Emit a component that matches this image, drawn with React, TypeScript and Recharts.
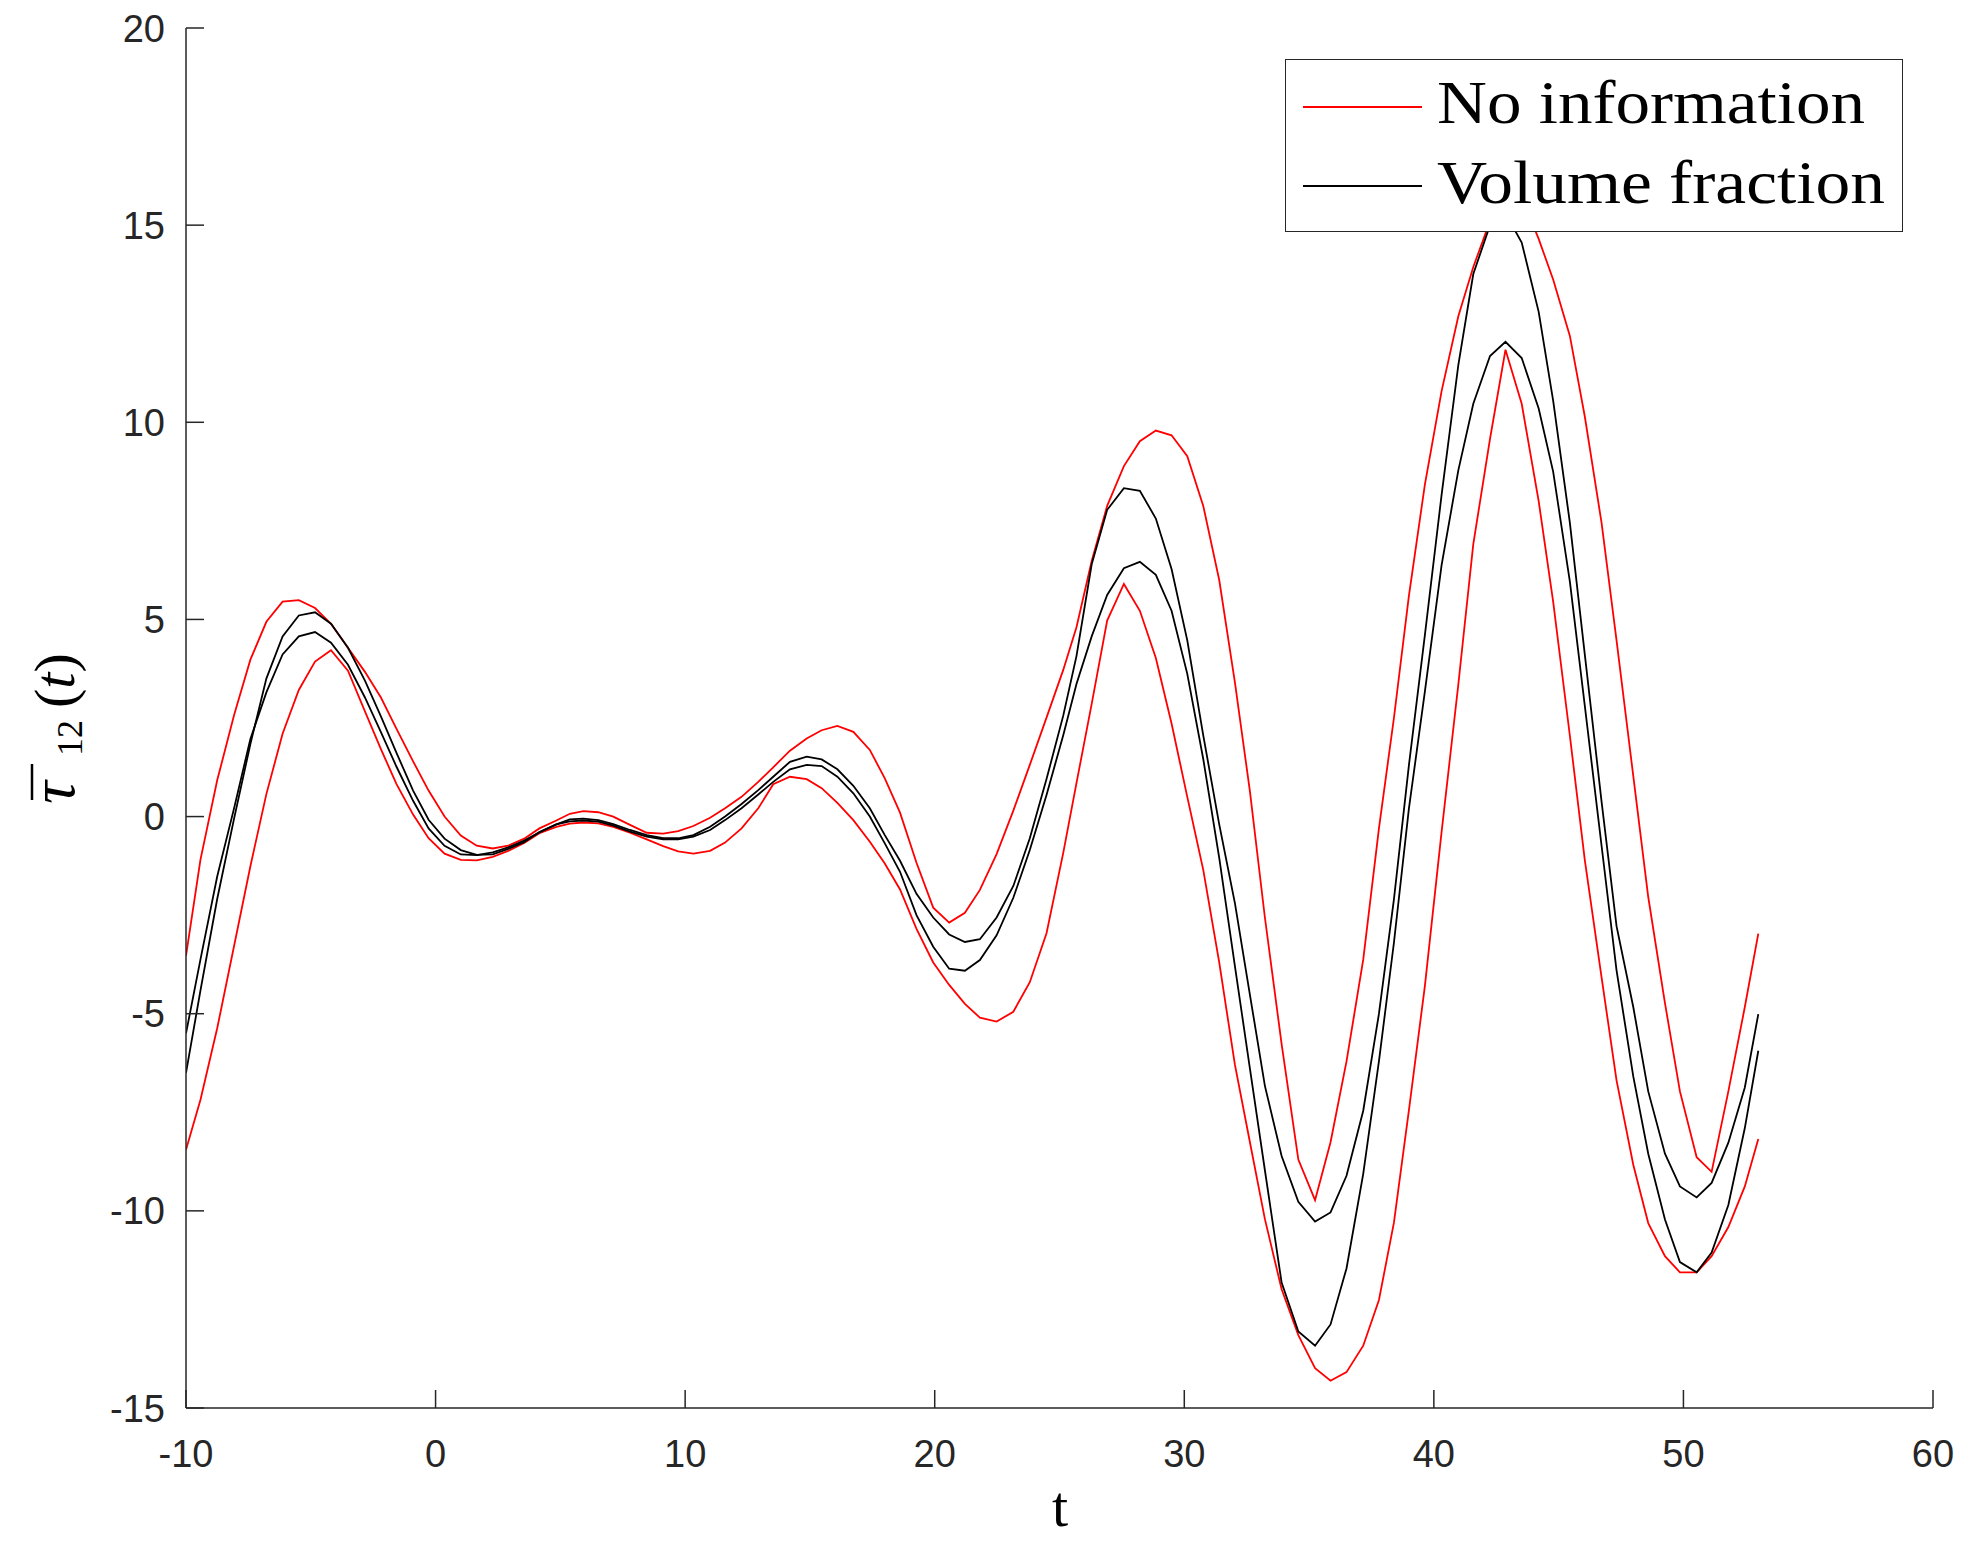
import React from 'react';
import { LineChart, Line, XAxis, YAxis } from 'recharts';

const tValues = [
  -10, -9.42, -8.75, -8.07, -7.42, -6.78, -6.13, -5.48, -4.83, -4.19,
  -3.51, -2.83, -2.19, -1.57, -0.9, -0.28, 0.36, 1.01, 1.65, 2.29,
  2.91, 3.55, 4.16, 4.84, 5.38, 5.92, 6.52, 7.12, 7.79, 8.46,
  9.12, 9.72, 10.33, 11.0, 11.6, 12.26, 12.93, 13.53, 14.2, 14.87,
  15.47, 16.1, 16.74, 17.4, 18.0, 18.61, 19.27, 19.94, 20.58, 21.21,
  21.81, 22.48, 23.15, 23.81, 24.48, 25.15, 25.68, 26.29, 26.91, 27.58,
  28.22, 28.86, 29.49, 30.12, 30.76, 31.4, 32.03, 32.63, 33.23, 33.9,
  34.57, 35.24, 35.86, 36.5, 37.17, 37.8, 38.4, 39.0, 39.64, 40.31,
  40.98, 41.58, 42.25, 42.87, 43.52, 44.2, 44.78, 45.45, 46.05, 46.72,
  47.32, 47.99, 48.59, 49.26, 49.86, 50.53, 51.13, 51.8, 52.46, 53,
];

// "No information" upper bound (red)
const noInfoUpper = [
  -3.53, -1.09, 0.92, 2.58, 3.98, 4.94, 5.45, 5.49, 5.29, 4.89,
  4.28, 3.67, 3.02, 2.23, 1.4, 0.66, 0.0, -0.48, -0.74, -0.81,
  -0.74, -0.56, -0.3, -0.1, 0.07, 0.14, 0.11, 0.0, -0.21, -0.41,
  -0.43, -0.37, -0.24, -0.03, 0.21, 0.5, 0.88, 1.25, 1.67, 1.98,
  2.19, 2.3, 2.15, 1.69, 0.97, 0.1, -1.17, -2.31, -2.69, -2.44,
  -1.86, -0.95, 0.15, 1.31, 2.51, 3.72, 4.8, 6.48, 7.88, 8.89,
  9.52, 9.79, 9.67, 9.14, 7.88, 6.0, 3.4, 0.64, -2.56, -5.77,
  -8.7, -9.73, -8.26, -6.21, -3.63, -0.3, 2.5, 5.6, 8.42, 10.79,
  12.69, 13.94, 15.1, 16.0, 15.7, 14.65, 13.62, 12.19, 10.14, 7.45,
  4.47, 1.03, -2.04, -4.73, -6.97, -8.64, -9.01, -6.97, -4.83, -2.97,
];

// "No information" lower bound (red)
const noInfoLower = [
  -8.45, -7.18, -5.37, -3.27, -1.26, 0.57, 2.1, 3.21, 3.93, 4.22,
  3.7, 2.67, 1.71, 0.83, 0.05, -0.55, -0.94, -1.1, -1.11, -1.02,
  -0.87, -0.67, -0.42, -0.26, -0.18, -0.15, -0.17, -0.26, -0.41, -0.58,
  -0.75, -0.88, -0.94, -0.87, -0.66, -0.3, 0.21, 0.82, 1.01, 0.95,
  0.72, 0.35, -0.09, -0.64, -1.19, -1.85, -2.85, -3.7, -4.27, -4.75,
  -5.1, -5.2, -4.95, -4.2, -2.96, -0.92, 0.85, 2.86, 4.97, 5.9,
  5.22, 4.02, 2.36, 0.5, -1.35, -3.7, -6.3, -8.26, -10.21, -11.99,
  -13.15, -13.99, -14.31, -14.09, -13.42, -12.26, -10.3, -7.45, -4.3, -0.39,
  3.35, 6.91, 9.58, 11.84, 10.47, 8.0, 5.45, 2.05, -1.11, -4.08,
  -6.69, -8.83, -10.31, -11.15, -11.56, -11.56, -11.15, -10.41, -9.38, -8.18,
];

// "Volume fraction" upper bound (black)
const volFracUpper = [
  -6.5, -4.41, -2.09, -0.04, 1.84, 3.5, 4.57, 5.1, 5.18, 4.89,
  4.28, 3.45, 2.54, 1.62, 0.66, -0.08, -0.56, -0.85, -0.97, -0.96,
  -0.82, -0.65, -0.39, -0.2, -0.07, -0.05, -0.09, -0.19, -0.34, -0.47,
  -0.55, -0.55, -0.47, -0.26, 0.0, 0.32, 0.67, 1.01, 1.39, 1.52,
  1.45, 1.2, 0.78, 0.21, -0.47, -1.12, -1.96, -2.56, -2.99, -3.18,
  -3.11, -2.56, -1.76, -0.55, 0.95, 2.56, 4.07, 6.4, 7.78, 8.33,
  8.26, 7.56, 6.28, 4.47, 2.06, -0.2, -2.2, -4.52, -6.83, -8.61,
  -9.77, -10.27, -10.04, -9.11, -7.46, -5.0, -2.1, 1.3, 4.6, 8.16,
  11.45, 13.76, 15.0, 15.3, 14.56, 12.8, 10.55, 7.45, 4.1, 0.38,
  -2.78, -4.83, -6.97, -8.55, -9.38, -9.66, -9.29, -8.27, -6.87, -5.01,
];

// "Volume fraction" lower bound (black)
const volFracLower = [
  -5.5, -3.62, -1.52, 0.22, 1.97, 3.15, 4.11, 4.57, 4.68, 4.41,
  3.85, 3.02, 2.14, 1.27, 0.4, -0.3, -0.74, -0.96, -0.98, -0.91,
  -0.78, -0.61, -0.4, -0.2, -0.12, -0.1, -0.13, -0.23, -0.38, -0.51,
  -0.58, -0.58, -0.51, -0.34, -0.09, 0.21, 0.56, 0.88, 1.2, 1.31,
  1.28, 1.01, 0.59, 0.0, -0.68, -1.4, -2.5, -3.3, -3.86, -3.91,
  -3.64, -3.01, -2.06, -0.85, 0.55, 2.06, 3.36, 4.57, 5.62, 6.3,
  6.46, 6.13, 5.22, 3.62, 1.46, -1.05, -3.8, -6.39, -8.97, -11.82,
  -13.06, -13.42, -12.88, -11.46, -9.06, -6.2, -3.2, 0.2, 3.17, 6.38,
  8.78, 10.47, 11.68, 12.04, 11.63, 10.35, 8.75, 5.96, 2.8, -0.74,
  -3.9, -6.59, -8.55, -10.22, -11.3, -11.56, -11.06, -9.85, -7.9, -5.94,
];

const xTicks = [-10, 0, 10, 20, 30, 40, 50, 60];
const yTicks = [-15, -10, -5, 0, 5, 10, 15, 20];

const legendItems = [
  { label: 'No information', color: '#ff0000' },
  { label: 'Volume fraction', color: '#000000' },
];

const data = tValues.map((t, i) => ({
  t,
  ru: noInfoUpper[i],
  rl: noInfoLower[i],
  bu: volFracUpper[i],
  bl: volFracLower[i],
}));

const AXIS = '#262626';
const TICK_FONT = '"Liberation Sans", Arial, Helvetica, sans-serif';
const SERIF = '"Liberation Serif", "Times New Roman", serif';

const XTick = (props: any) => {
  const { x, y, payload } = props;
  return (
    <g>
      <line x1={x} y1={y} x2={x} y2={y - 18} stroke={AXIS} strokeWidth={1.5} />
      <text x={x} y={y + 59} textAnchor="middle" fontFamily={TICK_FONT} fontSize={38} fill={AXIS}>
        {payload.value}
      </text>
    </g>
  );
};

const YTick = (props: any) => {
  const { x, y, payload } = props;
  return (
    <g>
      <line x1={x} y1={y} x2={x + 18} y2={y} stroke={AXIS} strokeWidth={1.5} />
      <text x={x - 21} y={y + 13.5} textAnchor="end" fontFamily={TICK_FONT} fontSize={38} fill={AXIS}>
        {payload.value}
      </text>
    </g>
  );
};

export default function App() {
  const legendWidths = [428, 448];
  return (
    <div style={{ position: 'absolute', left: 0, top: 0, width: 1968, height: 1541, background: '#ffffff' }}>
      <LineChart
        width={1968}
        height={1541}
        data={data}
        margin={{ top: 28, right: 35, bottom: 0, left: 0 }}
      >
        <XAxis
          dataKey="t"
          type="number"
          domain={[-10, 60]}
          ticks={xTicks}
          height={133}
          tickSize={0}
          tickMargin={0}
          tickLine={false}
          axisLine={{ stroke: AXIS, strokeWidth: 1.5 }}
          tick={<XTick />}
          interval={0}
          allowDataOverflow
        />
        <YAxis
          type="number"
          domain={[-15, 20]}
          ticks={yTicks}
          width={186}
          tickSize={0}
          tickMargin={0}
          tickLine={false}
          axisLine={{ stroke: AXIS, strokeWidth: 1.5 }}
          tick={<YTick />}
          interval={0}
          allowDataOverflow
        />
        <Line type="linear" dataKey="ru" stroke="#ff0000" strokeWidth={1.8} dot={false} isAnimationActive={false} />
        <Line type="linear" dataKey="rl" stroke="#ff0000" strokeWidth={1.8} dot={false} isAnimationActive={false} />
        <Line type="linear" dataKey="bu" stroke="#000000" strokeWidth={1.8} dot={false} isAnimationActive={false} />
        <Line type="linear" dataKey="bl" stroke="#000000" strokeWidth={1.8} dot={false} isAnimationActive={false} />
      </LineChart>

      {/* axis labels */}
      <svg
        width={1968}
        height={1541}
        style={{ position: 'absolute', left: 0, top: 0, pointerEvents: 'none' }}
      >
        <g transform="rotate(-90 74 720)">
          <text x={74 - 84} y={720} fontFamily={SERIF} fontSize={64} fontStyle="italic" fill="#000">
            τ
          </text>
          <line x1={74 - 80} y1={720 - 42} x2={74 - 44} y2={720 - 42} stroke="#000" strokeWidth={2.5} />
          <text x={74 - 36} y={728} fontFamily={SERIF} fontSize={36} fill="#000">
            12
          </text>
          <text x={74 + 12} y={720} fontFamily={SERIF} fontSize={58} fill="#000">
            (<tspan fontStyle="italic">t</tspan>)
          </text>
        </g>
        <text x={1060} y={1526} textAnchor="middle" fontFamily={SERIF} fontSize={58} fill="#000">
          t
        </text>
      </svg>

      {/* legend */}
      <div
        style={{
          position: 'absolute',
          left: 1285,
          top: 59,
          width: 618,
          height: 173,
          boxSizing: 'border-box',
          border: `1.5px solid ${AXIS}`,
          background: '#ffffff',
        }}
      >
        <svg width={615} height={170} style={{ position: 'absolute', left: 0, top: 0 }}>
          {legendItems.map((item, i) => (
            <g key={item.label}>
              <line x1={17} y1={47 + i * 79} x2={136} y2={47 + i * 79} stroke={item.color} strokeWidth={1.8} />
              <text
                x={151}
                y={63 + i * 80}
                fontFamily={SERIF}
                fontSize={62}
                fill="#000"
                textLength={legendWidths[i]}
                lengthAdjust="spacingAndGlyphs"
              >
                {item.label}
              </text>
            </g>
          ))}
        </svg>
      </div>
    </div>
  );
}
